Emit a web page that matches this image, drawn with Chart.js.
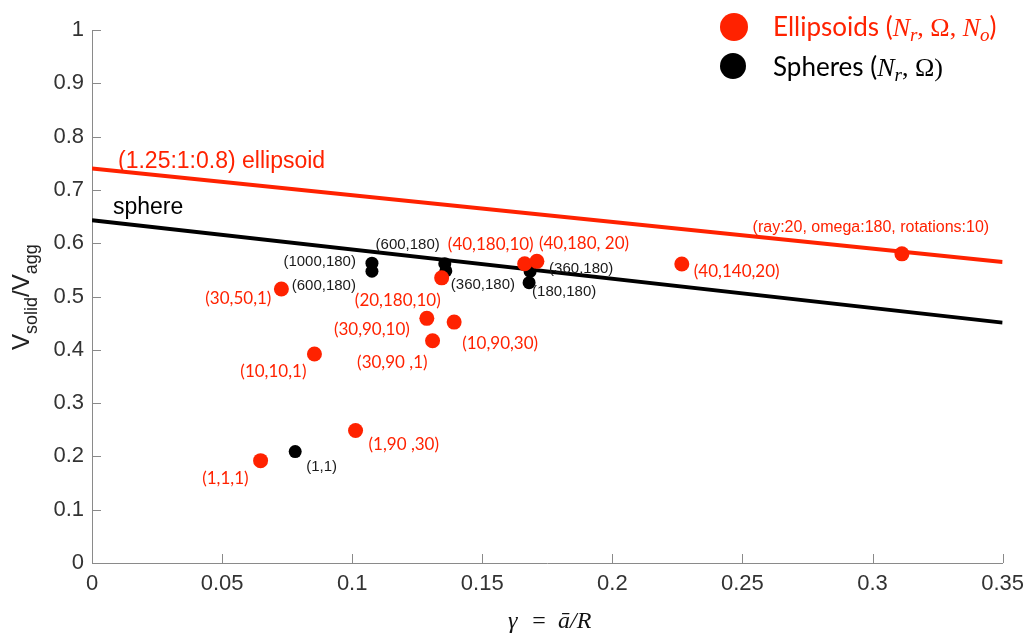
<!DOCTYPE html>
<html>
<head>
<meta charset="utf-8">
<script src="https://cdn.jsdelivr.net/npm/chart.js"></script>
<style>
  html, body { margin: 0; padding: 0; background: #fff; }
  #wrap { width: 1032px; height: 637px; }
</style>
</head>
<body>
<div id="wrap"><canvas id="packingChart" width="1032" height="637"></canvas></div>
<script>
// data
const ellipsoidX = [0.0648, 0.1013, 0.0855, 0.0728, 0.1287, 0.1309, 0.1392, 0.1344, 0.1663, 0.1710, 0.2267, 0.3113];
const ellipsoidY = [0.192, 0.2485, 0.392, 0.514, 0.459, 0.417, 0.452, 0.535, 0.5615, 0.566, 0.561, 0.580];
const ellipsoidLabels = ['(1,1,1)', '(1,90 ,30)', '(10,10,1)', '(30,50,1)', '(30,90,10)', '(30,90 ,1)',
  '(10,90,30)', '(20,180,10)', '(40,180,10)', '(40,180, 20)', '(40,140,20)', '(ray:20, omega:180, rotations:10)'];

const sphereX = [0.0781, 0.1076, 0.1076, 0.1356, 0.1360, 0.1684, 0.1680];
const sphereY = [0.209, 0.5625, 0.5474, 0.5615, 0.548, 0.547, 0.526];
const sphereLabels = ['(1,1)', '(1000,180)', '(600,180)', '(600,180)', '(360,180)', '(360,180)', '(180,180)'];

const ellipsoidLineX = [0, 0.35];
const ellipsoidLineY = [0.740, 0.5647];
const sphereLineX = [0, 0.35];
const sphereLineY = [0.643, 0.451];

const xTicks = [0, 0.05, 0.1, 0.15, 0.2, 0.25, 0.3, 0.35];
const yTicks = [0, 0.1, 0.2, 0.3, 0.4, 0.5, 0.6, 0.7, 0.8, 0.9, 1];

// label placement [align, dx, dy] relative to the point
const ellipsoidLabelPos = [
  ['right', -12, 18], ['left', 13, 14], ['right', -8, 17], ['right', -10, 9],
  ['right', -17, 11], ['right', -5, 22], ['left', 8, 21], ['right', -1, 23],
  ['right', 9, -19], ['left', 2, -18], ['left', 12, 8], ['center', -31, -26]
];
const sphereLabelPos = [
  ['left', 11, 15], ['right', -16, -1], ['right', -16, 15], ['right', -5, -19],
  ['left', 5, 14], ['left', 19, -3], ['left', 3, 9]
];

const RED = '#ff2200';
const INK = '#1a1a1a';

function toPoints(xs, ys) {
  return xs.map((x, i) => ({ x: x, y: ys[i] }));
}

function drawRuns(ctx, x, y, runs) {
  runs.forEach(r => {
    ctx.font = r[1];
    ctx.fillStyle = r[3];
    ctx.fillText(r[0], x, y + (r[2] || 0));
    x += ctx.measureText(r[0]).width;
  });
}

const annotations = {
  id: 'annotations',
  afterDatasetsDraw(chart) {
    const ctx = chart.ctx;
    ctx.save();
    ctx.textBaseline = 'middle';

    // point labels
    const metaE = chart.getDatasetMeta(0);
    metaE.data.forEach((pt, i) => {
      const p = ellipsoidLabelPos[i];
      ctx.textAlign = p[0];
      ctx.font = i === 11 ? '16px "Liberation Sans"' : '17px Lato';
      ctx.fillStyle = RED;
      ctx.fillText(ellipsoidLabels[i], pt.x + p[1], pt.y + p[2]);
    });
    const metaS = chart.getDatasetMeta(1);
    metaS.data.forEach((pt, i) => {
      const p = sphereLabelPos[i];
      ctx.textAlign = p[0];
      ctx.font = '15px "Liberation Sans"';
      ctx.fillStyle = INK;
      ctx.fillText(sphereLabels[i], pt.x + p[1], pt.y + p[2]);
    });

    // line labels
    const xs = chart.scales.x, ys = chart.scales.y;
    ctx.textAlign = 'left';
    ctx.textBaseline = 'alphabetic';
    ctx.font = '23px "Liberation Sans"';
    ctx.fillStyle = RED;
    ctx.fillText('(1.25:1:0.8) ellipsoid', xs.getPixelForValue(0) + 26, ys.getPixelForValue(ellipsoidLineY[0]) - 1);
    ctx.fillStyle = '#000';
    ctx.fillText('sphere', xs.getPixelForValue(0) + 21, ys.getPixelForValue(sphereLineY[0]) - 6);
    ctx.restore();
  },
  afterDraw(chart) {
    const ctx = chart.ctx;
    const xs = chart.scales.x, ys = chart.scales.y;
    const area = chart.chartArea;
    ctx.save();

    // inward tick marks
    ctx.strokeStyle = '#8a8a8a';
    ctx.lineWidth = 1;
    ctx.beginPath();
    xTicks.forEach(v => {
      const px = Math.round(xs.getPixelForValue(v)) + 0.5;
      ctx.moveTo(px, area.bottom);
      ctx.lineTo(px, area.bottom - 9);
    });
    yTicks.forEach(v => {
      const py = Math.round(ys.getPixelForValue(v)) + 0.5;
      ctx.moveTo(area.left, py);
      ctx.lineTo(area.left + 9, py);
    });
    ctx.stroke();

    // x axis title
    ctx.textBaseline = 'alphabetic';
    ctx.textAlign = 'left';
    ctx.fillStyle = '#111';
    ctx.font = 'italic 24px "Liberation Serif"';
    ctx.fillText('\u03b3', 508, 628);
    ctx.font = '24px "Liberation Serif"';
    ctx.textAlign = 'center';
    ctx.fillText('=', 539, 628);
    ctx.textAlign = 'left';
    ctx.font = 'italic 24px "Liberation Serif"';
    ctx.fillText('\u0101/R', 558, 628);

    // y axis title, rotated
    ctx.save();
    ctx.translate(29, 350);
    ctx.rotate(-Math.PI / 2);
    drawRuns(ctx, 0, 0, [
      ['V', '24px "Liberation Sans"', 0, '#222'],
      ['solid', '18px "Liberation Sans"', 8, '#222'],
      ['/V', '24px "Liberation Sans"', 0, '#222'],
      ['agg', '18px "Liberation Sans"', 8, '#222']
    ]);
    ctx.restore();

    // legend
    ctx.fillStyle = RED;
    ctx.beginPath();
    ctx.arc(734, 27, 14, 0, Math.PI * 2);
    ctx.fill();
    ctx.fillStyle = '#000';
    ctx.beginPath();
    ctx.arc(733, 66, 13, 0, Math.PI * 2);
    ctx.fill();

    drawRuns(ctx, 773, 36, [
      ['Ellipsoids (', '26px Lato', 0, RED],
      ['N', 'italic 26px "Liberation Serif"', 0, RED],
      ['r', 'italic 19px "Liberation Serif"', 5, RED],
      [', \u03a9, ', '26px "Liberation Serif"', 0, RED],
      ['N', 'italic 26px "Liberation Serif"', 0, RED],
      ['o', 'italic 19px "Liberation Serif"', 5, RED],
      [')', '26px Lato', 0, RED]
    ]);
    drawRuns(ctx, 773, 76, [
      ['Spheres (', '26px Lato', 0, '#000'],
      ['N', 'italic 26px "Liberation Serif"', 0, '#000'],
      ['r', 'italic 19px "Liberation Serif"', 5, '#000'],
      [', \u03a9)', '26px "Liberation Serif"', 0, '#000']
    ]);
    ctx.restore();
  }
};

const ctx = document.getElementById('packingChart').getContext('2d');
const packingChart = new Chart(ctx, {
  type: 'scatter',
  data: {
    datasets: [
      {
        label: 'Ellipsoids',
        data: toPoints(ellipsoidX, ellipsoidY),
        backgroundColor: RED,
        borderWidth: 0,
        pointRadius: 7.5,
        pointHoverRadius: 7.5
      },
      {
        label: 'Spheres',
        data: toPoints(sphereX, sphereY),
        backgroundColor: '#000',
        borderWidth: 0,
        pointRadius: 6.5,
        pointHoverRadius: 6.5
      },
      {
        label: '(1.25:1:0.8) ellipsoid',
        data: toPoints(ellipsoidLineX, ellipsoidLineY),
        showLine: true,
        borderColor: RED,
        borderWidth: 4,
        pointRadius: 0
      },
      {
        label: 'sphere',
        data: toPoints(sphereLineX, sphereLineY),
        showLine: true,
        borderColor: '#000',
        borderWidth: 4,
        pointRadius: 0
      }
    ]
  },
  options: {
    responsive: false,
    animation: false,
    events: [],
    layout: { padding: { left: 0, right: 23, top: 30, bottom: 0 } },
    plugins: {
      legend: { display: false },
      tooltip: { enabled: false }
    },
    scales: {
      x: {
        type: 'linear',
        min: 0,
        max: 0.35,
        grid: { display: false, drawTicks: false, tickLength: 0 },
        border: { display: true, color: '#8a8a8a', width: 1 },
        ticks: {
          stepSize: 0.05,
          padding: 8,
          color: '#333',
          font: { family: 'Liberation Sans', size: 22 },
          maxRotation: 0,
          autoSkip: false,
          callback: v => String(+v.toFixed(2))
        },
        afterFit: scale => { scale.height = 74; }
      },
      y: {
        type: 'linear',
        min: 0,
        max: 1,
        grid: { display: false, drawTicks: false, tickLength: 0 },
        border: { display: true, color: '#8a8a8a', width: 1 },
        ticks: {
          stepSize: 0.1,
          padding: 8,
          color: '#333',
          font: { family: 'Liberation Sans', size: 22 },
          autoSkip: false,
          callback: v => String(+v.toFixed(1))
        },
        afterFit: scale => { scale.width = 92; }
      }
    }
  },
  plugins: [annotations]
});
</script>
</body>
</html>
